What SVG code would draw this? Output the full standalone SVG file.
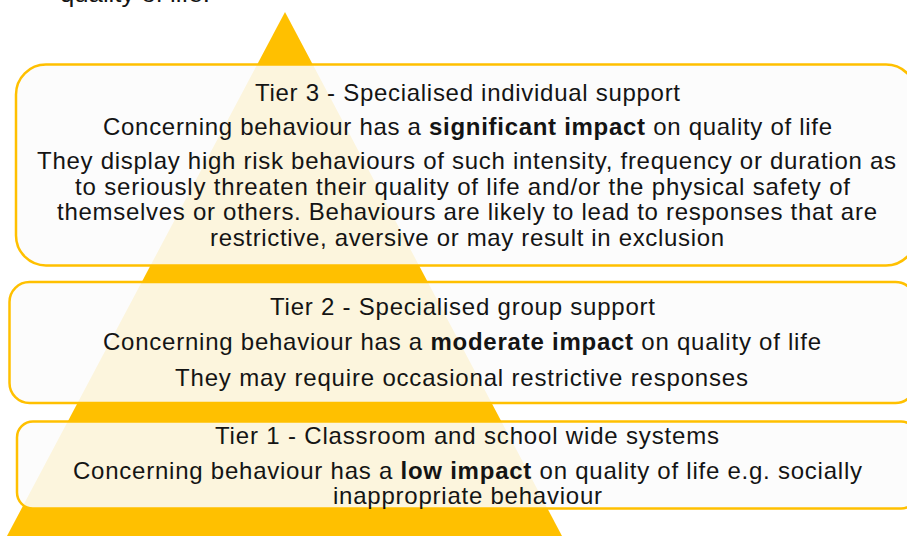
<svg xmlns="http://www.w3.org/2000/svg" width="907" height="536" viewBox="0 0 907 536">
  <style>
    .tier { fill: #FCFCFC; fill-opacity: 0.88; stroke: #FFC000; stroke-width: 2.5; }
    text { font-family: "Liberation Sans", Arial, sans-serif; font-size: 24px; fill: #141414; text-anchor: middle; }
    .b { font-weight: bold; }
  </style>
  <rect width="907" height="536" fill="#FFFFFF"/>

  <!-- caption line running off the top edge -->
  <text x="60" y="2" textLength="150" lengthAdjust="spacingAndGlyphs" style="text-anchor:start">quality of life.</text>

  <!-- pyramid behind the tier panels -->
  <polygon id="pyramid" points="285,12 562,536 7,536" fill="#FFC000"/>

  <g id="tier3">
    <rect class="tier" x="16" y="64.5" width="900" height="201" rx="30" ry="30"/>
    <text x="467.5" y="100.5" textLength="425">Tier 3 - Specialised individual support</text>
    <text x="467.5" y="134.5" textLength="729">Concerning behaviour has a <tspan class="b">significant impact</tspan> on quality of life</text>
    <text x="466.5" y="168.5" textLength="859">They display high risk behaviours of such intensity, frequency or duration as</text>
    <text x="462.5" y="194.5" textLength="775">to seriously threaten their quality of life and/or the physical safety of</text>
    <text x="467" y="219.5" textLength="820">themselves or others. Behaviours are likely to lead to responses that are</text>
    <text x="467" y="245.5" textLength="514">restrictive, aversive or may result in exclusion</text>
  </g>

  <g id="tier2">
    <rect class="tier" x="9.5" y="282" width="906" height="121" rx="20" ry="20"/>
    <text x="462.5" y="314.5" textLength="385">Tier 2 - Specialised group support</text>
    <text x="462" y="349.5" textLength="718">Concerning behaviour has a <tspan class="b">moderate impact</tspan> on quality of life</text>
    <text x="461.5" y="385.5" textLength="573">They may require occasional restrictive responses</text>
  </g>

  <g id="tier1">
    <rect class="tier" x="17" y="421.5" width="900" height="87" rx="16" ry="16"/>
    <text x="467" y="443.5" textLength="504">Tier 1 - Classroom and school wide systems</text>
    <text x="467.5" y="478.5" textLength="789">Concerning behaviour has a <tspan class="b">low impact</tspan> on quality of life e.g. socially</text>
    <text x="467.5" y="503.5" textLength="269">inappropriate behaviour</text>
  </g>

  <g id="connectors"></g>
</svg>
